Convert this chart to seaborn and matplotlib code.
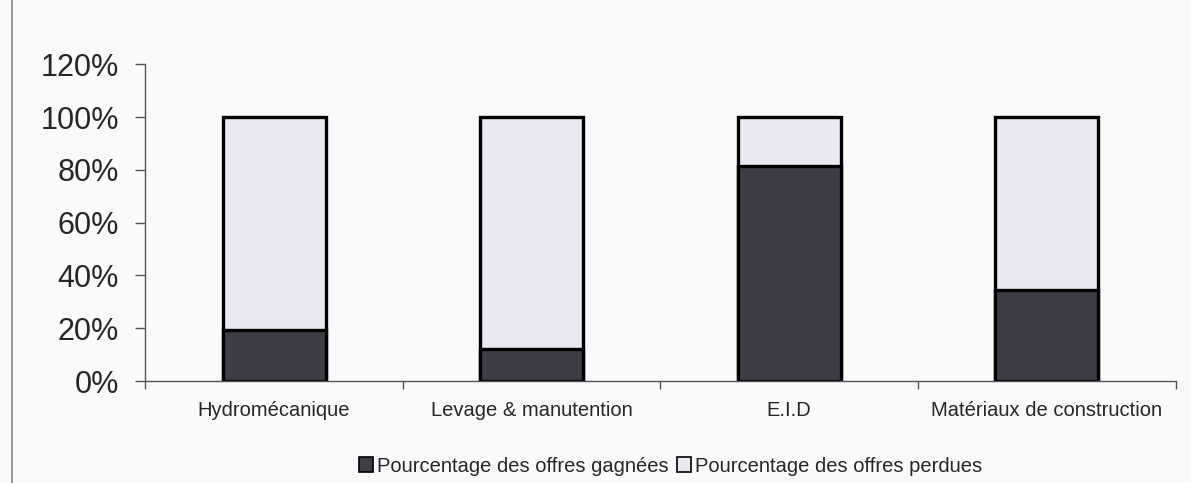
import numpy as np
import pandas as pd
import matplotlib
matplotlib.use('Agg')
import matplotlib.pyplot as plt
import seaborn as sns
from matplotlib.patches import Patch, Rectangle
from matplotlib.ticker import FuncFormatter, MultipleLocator

# data
categories = ["Hydromécanique", "Levage & manutention", "E.I.D", "Matériaux de construction"]
gagnees = [19.3, 12.0, 81.4, 34.5]
perdues = [100 - g for g in gagnees]
series_names = ["Pourcentage des offres gagnées", "Pourcentage des offres perdues"]

dark = "#3d3d45"
light = "#e9e9f1"
bg = "#fafafc"

sns.set_style("white")
plt.rcParams['font.family'] = ['Liberation Sans', 'DejaVu Sans']

df = pd.DataFrame({"cat": categories, "gagnees": gagnees,
                   "total": np.array(gagnees) + np.array(perdues)})

fig = plt.figure(figsize=(11.91, 4.83), dpi=100, facecolor=bg)
ax = fig.add_axes([0.122, 0.211, 0.865, 0.656])
ax.set_facecolor(bg)

# stacked: full bar (perdues on top) then gagnees at the bottom
sns.barplot(data=df, x="cat", y="total", color=light, width=0.4,
            edgecolor="black", linewidth=2.4, saturation=1, ax=ax)
sns.barplot(data=df, x="cat", y="gagnees", color=dark, width=0.4,
            edgecolor="black", linewidth=2.4, saturation=1, ax=ax)

ax.set_ylim(0, 120)
ax.set_xlim(-0.5, len(categories) - 0.5)
ax.yaxis.set_major_locator(MultipleLocator(20))
ax.yaxis.set_major_formatter(FuncFormatter(lambda v, p: f"{v:.0f}%"))
ax.set_xlabel("")
ax.set_ylabel("")

for s in ["top", "right"]:
    ax.spines[s].set_visible(False)
for s in ["left", "bottom"]:
    ax.spines[s].set_color("#555555")
    ax.spines[s].set_linewidth(1.0)

ax.tick_params(axis="y", left=True, length=7, width=1, color="#555555",
               labelsize=22, pad=12)
# x ticks between categories
ax.set_xticks(np.arange(len(categories)))
ax.set_xticklabels(categories, fontsize=14.5)
ax.tick_params(axis="x", bottom=False, pad=11)
ax.set_xticks(np.arange(len(categories) + 1) - 0.5, minor=True)
ax.tick_params(axis="x", which="minor", bottom=True, length=6, width=1, color="#555555")

handles = [Patch(facecolor=dark, edgecolor="black", linewidth=1.2),
           Patch(facecolor=light, edgecolor="black", linewidth=1.2)]
fig.legend(handles, series_names, loc="center", bbox_to_anchor=(0.563, 0.035),
           ncol=2, frameon=False, fontsize=14.5, handlelength=0.7, handleheight=0.7,
           handletextpad=0.2, columnspacing=0.4)

# outer chart border
fig.patches.append(Rectangle((0.01, -0.01), 1.2, 1.2, transform=fig.transFigure,
                             fill=False, edgecolor="#888888", linewidth=1.2))

fig.savefig("out.png", dpi=100, facecolor=bg)
